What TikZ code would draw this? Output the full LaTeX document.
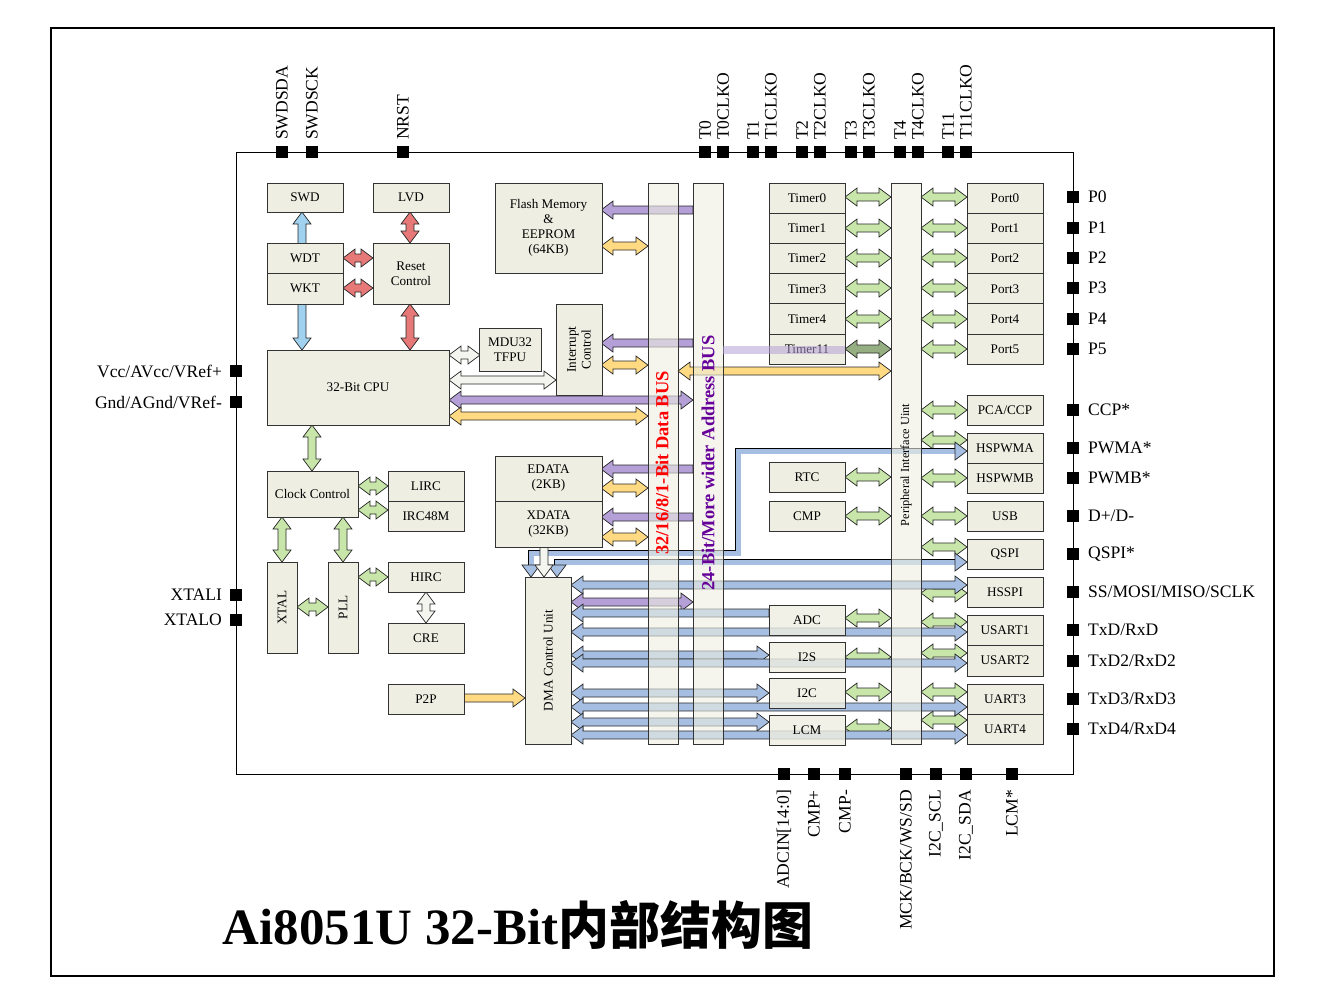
\documentclass[tikz,border=0pt]{standalone}
\usepackage{fontspec}
\setmainfont{Liberation Serif}
\newfontfamily\cjk{Noto Sans CJK SC}
\usetikzlibrary{positioning}
\definecolor{boxc}{RGB}{238,238,226}
\definecolor{purp}{RGB}{180,160,215}
\definecolor{yel}{RGB}{255,218,130}
\definecolor{grn}{RGB}{200,230,170}
\definecolor{dgrn}{RGB}{150,175,130}
\definecolor{blu}{RGB}{165,190,225}
\definecolor{redc}{RGB}{230,120,120}
\definecolor{lblu}{RGB}{160,210,240}
\definecolor{whi}{RGB}{245,245,240}
\tikzset{
  box/.style={draw=black!80, fill=boxc, line width=0.5pt, align=center, inner sep=0pt,
    font=\fontsize{7.5}{8.5}\selectfont},
  arr/.style={draw=black!85, line width=0.4pt},
  pin/.style={fill=black, minimum size=0.24cm, inner sep=0pt},
  plab/.style={font=\fontsize{10}{11}\selectfont, inner sep=1pt},
  bus/.style={draw=black!80, fill=boxc, fill opacity=0.6, line width=0.5pt},
}
% block from corner to corner (pixels)
\newcommand\blk[6]{\node[box, minimum width={((#4)-(#2))*0.02cm}, minimum height={((#5)-(#3))*0.02cm}]
  (#1) at ({((#2)+(#4))/2},{((#3)+(#5))/2}) {#6};}
% fat arrows: x1 x2 y fill / y1 y2 x fill
\newcommand\hdbl[4]{\filldraw[arr,fill=#4] (#1,#3) -- ++(12,-9) -- ++(0,5) -- ({#2-12},{#3-4}) -- ++(0,-5)
  -- (#2,#3) -- ++(-12,9) -- ++(0,-5) -- ({#1+12},{#3+4}) -- ++(0,5) -- cycle;}
\newcommand\hl[4]{\filldraw[arr,fill=#4] (#1,#3) -- ++(12,-9) -- ++(0,5) -- (#2,{#3-4}) -- (#2,{#3+4})
  -- ({#1+12},{#3+4}) -- ++(0,5) -- cycle;}
\newcommand\hr[4]{\filldraw[arr,fill=#4] (#1,{#3-4}) -- ({#2-12},{#3-4}) -- ++(0,-5) -- (#2,#3)
  -- ++(-12,9) -- ++(0,-5) -- (#1,{#3+4}) -- cycle;}
\newcommand\vdbl[4]{\filldraw[arr,fill=#4] (#3,#1) -- ++(-9,12) -- ++(5,0) -- ({#3-4},{#2-12}) -- ++(-5,0)
  -- (#3,#2) -- ++(9,-12) -- ++(-5,0) -- ({#3+4},{#1+12}) -- ++(5,0) -- cycle;}
\newcommand\vdn[4]{\filldraw[arr,fill=#4] ({#3-4},#1) -- ({#3-4},{#2-12}) -- ++(-5,0) -- (#3,#2)
  -- ++(9,-12) -- ++(-5,0) -- ({#3+4},#1) -- cycle;}

\begin{document}
\begin{tikzpicture}[x=0.02cm, y=-0.02cm]
\useasboundingbox (0,0) rectangle (1326,1002);
\draw[line width=0.8pt] (51,28) rectangle (1274,976);
\draw[line width=0.5pt] (236,152) rectangle (1073,774);

% pins on top
\foreach \x/\t in {282/SWDSDA, 312/SWDSCK, 403/NRST, 705/T0, 723/T0CLKO, 753/T1, 771/T1CLKO,
    802/T2, 820/T2CLKO, 851/T3, 869/T3CLKO, 900/T4, 918/T4CLKO, 948/T11, 966/T11CLKO} {
  \node[pin] (pt\x) at (\x,152) {};
  \node[plab, rotate=90, anchor=west] at (\x,142) {\t};
}
% pins at bottom
\foreach \x/\t in {784/{ADCIN[14:0]}, 814/CMP+, 845/CMP-, 906/{MCK/BCK/WS/SD}, 936/I2C\_SCL,
    966/I2C\_SDA, 1012/LCM*} {
  \node[pin] (pb\x) at (\x,774) {};
  \node[plab, rotate=90, anchor=east] at (\x,788) {\t};
}
% pins on the right
\foreach \y/\t in {197/P0, 228/P1, 258/P2, 288/P3, 319/P4, 349/P5, 410/CCP*, 448/PWMA*, 478/PWMB*,
    516/{D+/D-}, 554/QSPI*, 592/{SS/MOSI/MISO/SCLK}, 630/{TxD/RxD}, 661/{TxD2/RxD2}, 699/{TxD3/RxD3}, 729/{TxD4/RxD4}} {
  \node[pin] (pr\y) at (1073,\y) {};
  \node[plab, anchor=west] at (1086,\y) {\t};
}
% pins on the left
\foreach \y/\t in {371/{Vcc/AVcc/VRef+}, 402/{Gnd/AGnd/VRef-}, 595/XTALI, 620/XTALO} {
  \node[pin] (pl\y) at (236,\y) {};
  \node[plab, anchor=east] at (224,\y) {\t};
}

% arrows
\vdbl{212}{350}{302}{lblu}
\vdbl{212}{243}{410}{redc}
\vdbl{304}{350}{410}{redc}
\hdbl{343}{373}{258}{redc}
\hdbl{343}{373}{288}{redc}
\hdbl{449}{480}{355}{whi}
\hdbl{449}{556}{380}{whi}
\hdbl{449}{693}{400}{purp}
\hdbl{449}{648}{416}{yel}
\hl{601}{693}{210}{purp}
\hdbl{601}{648}{246}{yel}
\hl{601}{693}{343}{purp}
\hdbl{601}{648}{365}{yel}
\hdbl{678}{891}{371}{yel}
\hl{601}{693}{469}{purp}
\hdbl{601}{648}{488}{yel}
\hl{601}{693}{517}{purp}
\hdbl{601}{648}{537}{yel}
\foreach \y in {197,228,258,288,319} {\hdbl{845}{891}{\y}{grn}}
\hdbl{845}{891}{349}{dgrn}
\foreach \y in {197,228,258,288,319,349,410,440,478,516,547,593,622,653,692,720} {\hdbl{921}{967}{\y}{grn}}
\foreach \y in {477,516,618,657,692,728} {\hdbl{845}{891}{\y}{grn}}
\vdbl{425}{471}{312}{grn}
\vdbl{517}{562}{282}{grn}
\vdbl{517}{562}{343}{grn}
\hdbl{358}{388}{486}{grn}
\hdbl{358}{388}{510}{grn}
\hdbl{358}{388}{577}{grn}
\hdbl{297}{328}{607}{grn}
\vdbl{592}{623}{426}{whi}
\hr{464}{525}{698}{yel}
% DMA channels
\draw[line width=0.4pt, double=blu, double distance=0.1cm] (531,566) |- (738,553) |- (956,451);
\draw[line width=0.4pt, double=blu, double distance=0.1cm] (557,566) |- (956,562);
\filldraw[arr,fill=blu] (967,451) -- ++(-12,-9) -- ++(0,18) -- cycle;
\filldraw[arr,fill=blu] (967,562) -- ++(-12,-9) -- ++(0,18) -- cycle;
\filldraw[arr,fill=blu] (531,577) -- ++(-9,-12) -- ++(18,0) -- cycle;
\filldraw[arr,fill=blu] (557,577) -- ++(-9,-12) -- ++(18,0) -- cycle;
\vdn{547}{577}{544}{whi}
\hdbl{571}{967}{585}{blu}
\hdbl{571}{693}{602}{purp}
\hl{571}{769}{613}{blu}
\hdbl{571}{967}{632}{blu}
\hdbl{571}{769}{655}{blu}
\hdbl{571}{967}{663}{blu}
\hdbl{571}{769}{693}{blu}
\hdbl{571}{967}{707}{blu}
\hdbl{571}{769}{722}{blu}
\hdbl{571}{967}{735}{blu}

% buses
\draw[bus] (648,183) rectangle (678,744);
\draw[bus] (693,183) rectangle (723,744);
\draw[bus] (891,183) rectangle (921,744);
\node[rotate=90, text=red, font=\bfseries\fontsize{10.5}{12}\selectfont] (dbus) at (662,463) {32/16/8/1-Bit Data BUS};
\node[rotate=90, text=violet!80!blue, font=\bfseries\fontsize{10.5}{12}\selectfont] (abus) at (708,463) {24-Bit/More wider Address BUS};
\node[rotate=90, font=\fontsize{7}{8}\selectfont] (pbus) at (906,465) {Peripheral Interface Uint};

% blocks
\blk{swd}{267}{183}{343}{212}{SWD}
\blk{lvd}{373}{183}{449}{212}{LVD}
\blk{wdt}{267}{243}{343}{273}{WDT}
\blk{wkt}{267}{273}{343}{304}{WKT}
\blk{rst}{373}{243}{449}{304}{Reset\\Control}
\blk{cpu}{267}{350}{449}{425}{32-Bit CPU}
\blk{mdu}{479}{328}{541}{371}{MDU32\\TFPU}
\blk{irq}{556}{304}{602}{395}{}
\node[rotate=90, align=center, font=\fontsize{7.5}{8.5}\selectfont] at (irq) {Interrupt\\Control};
\blk{flash}{495}{183}{602}{273}{Flash Memory\\\&\\EEPROM\\(64KB)}
\foreach \n/\t [count=\i from 0] in {t0/Timer0, t1/Timer1, t2/Timer2, t3/Timer3, t4/Timer4, t11/Timer11}
  {\blk{\n}{769}{183+30.2*\i}{845}{213.2+30.2*\i}{\t}}
\fill[purp, opacity=0.55] (723,346) rectangle (845,354);
\foreach \i in {0,...,5} {\blk{port\i}{967}{183+30.2*\i}{1043}{213.2+30.2*\i}{Port\i}}
\blk{pca}{967}{395}{1043}{425}{PCA/CCP}
\blk{pwma}{967}{433}{1043}{463}{HSPWMA}
\blk{pwmb}{967}{463}{1043}{493}{HSPWMB}
\blk{usb}{967}{501}{1043}{531}{USB}
\blk{qspi}{967}{539}{1043}{569}{QSPI}
\blk{hsspi}{967}{577}{1043}{607}{HSSPI}
\blk{usart1}{967}{615}{1043}{645}{USART1}
\blk{usart2}{967}{645}{1043}{676}{USART2}
\blk{uart3}{967}{684}{1043}{714}{UART3}
\blk{uart4}{967}{714}{1043}{744}{UART4}
\blk{rtc}{769}{462}{845}{492}{RTC}
\blk{cmp}{769}{501}{845}{531}{CMP}
\begin{scope}[box/.append style={fill opacity=0.8, text opacity=1}]
\blk{adc}{769}{605}{845}{635}{ADC}
\blk{iis}{769}{642}{845}{672}{I2S}
\blk{iic}{769}{678}{845}{708}{I2C}
\blk{lcm}{769}{715}{845}{745}{LCM}
\end{scope}
\blk{clk}{267}{471}{358}{517}{Clock Control}
\blk{lirc}{388}{471}{464}{501}{LIRC}
\blk{irc48}{388}{501}{464}{531}{IRC48M}
\blk{hirc}{388}{562}{464}{592}{HIRC}
\blk{cre}{388}{623}{464}{653}{CRE}
\blk{p2p}{388}{684}{464}{714}{P2P}
\blk{xtal}{267}{562}{297}{653}{}
\node[rotate=90, font=\fontsize{7.5}{8.5}\selectfont] at (xtal) {XTAL};
\blk{pll}{328}{562}{358}{653}{}
\node[rotate=90, font=\fontsize{7.5}{8.5}\selectfont] at (pll) {PLL};
\blk{edata}{495}{456}{602}{501}{EDATA\\(2KB)}
\blk{xdata}{495}{501}{602}{547}{XDATA\\(32KB)}
\blk{dma}{525}{577}{571}{744}{}
\node[rotate=90, font=\fontsize{7.5}{8.5}\selectfont] at (dma) {DMA Control Unit};

% title
\node[font=\bfseries\fontsize{29}{33}\selectfont] (title) at (518,925) {Ai8051U 32-Bit{\cjk 内部结构图}};
\end{tikzpicture}
\end{document}
